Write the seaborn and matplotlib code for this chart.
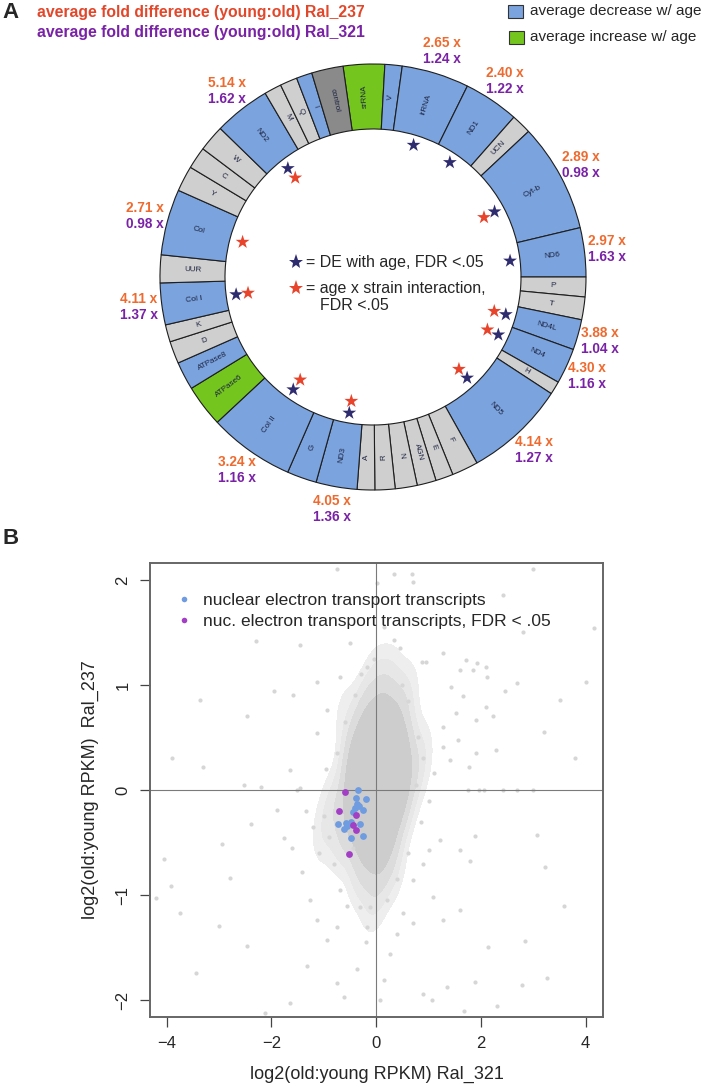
import numpy as np
import pandas as pd
import seaborn as sns
import matplotlib.pyplot as plt
from matplotlib.patches import Wedge, Rectangle
from matplotlib.lines import Line2D
from matplotlib.colors import LinearSegmentedColormap

# ---------------- panel A: mitochondrial genome ring ----------------
seg_names = ["srRNA", "V", "lrRNA", "ND1", "UCN", "Cyt-b", "ND6", "P", "T", "ND4L",
             "ND4", "H", "ND5", "F", "E", "AGN", "N", "R", "A", "ND3", "G", "Col II",
             "ATPase6", "ATPase8", "D", "K", "Col I", "UUR", "Col", "Y", "C", "W",
             "ND2", "M", "Q", "I", "control"]
# segment boundaries, degrees clockwise from 12 o'clock
seg_bounds = [-8.1, 3.2, 7.9, 26.3, 41.4, 46.9, 76.6, 90.0, 95.4, 101.6, 109.9,
              119.6, 123.2, 150.8, 158.0, 162.8, 168.0, 174.0, 179.5, 184.3, 195.5,
              203.6, 227.0, 238.5, 246.2, 252.3, 257.0, 268.4, 276.0, 294.0, 301.0,
              307.0, 314.2, 329.6, 334.3, 339.0, 343.3, 351.9]
seg_kind = ["inc", "dec", "dec", "dec", "trna", "dec", "dec", "trna", "trna", "dec",
            "dec", "trna", "dec", "trna", "trna", "trna", "trna", "trna", "trna", "dec",
            "dec", "dec", "inc", "dec", "trna", "trna", "dec", "trna", "dec", "trna",
            "trna", "trna", "dec", "trna", "trna", "dec", "ctrl"]

fold_genes = ["lrRNA", "ND1", "Cyt-b", "ND6", "ND4L", "ND4", "ND5", "ND3", "Col II",
              "Col I", "Col", "ND2"]
fold_237 = [2.65, 2.40, 2.89, 2.97, 3.88, 4.30, 4.14, 4.05, 3.24, 4.11, 2.71, 5.14]
fold_321 = [1.24, 1.22, 0.98, 1.63, 1.04, 1.16, 1.27, 1.36, 1.16, 1.37, 0.98, 1.62]

de_genes = ["lrRNA", "ND1", "Cyt-b", "ND6", "ND4L", "ND4", "ND5", "ND3", "Col II",
            "Col I", "ND2"]
int_genes = ["Cyt-b", "ND4L", "ND4", "ND5", "ND3", "Col II", "Col I", "Col", "ND2"]

# ---------------- panel B: scatter ----------------
# dense central cloud of all transcripts: anchor points + local density
cloud_x = [0.00, 0.25,
           -0.20, 0.10, 0.40,
           -0.40, -0.10, 0.20, 0.50,
           -0.45, -0.15, 0.15, 0.45, 0.70,
           -0.80, -0.45, -0.15, 0.15, 0.45,
           -0.65, -0.35, -0.05, 0.25,
           -0.25, 0.05, 0.30,
           -0.05,
           -1.00, 0.85, 0.60, -0.60]
cloud_y = [1.05, 1.05,
           0.75, 0.75, 0.75,
           0.45, 0.45, 0.45, 0.45,
           0.15, 0.15, 0.15, 0.15, 0.15,
           -0.15, -0.15, -0.15, -0.15, -0.15,
           -0.45, -0.45, -0.45, -0.45,
           -0.75, -0.75, -0.75,
           -1.05,
           -0.40, 0.35, 0.95, 0.75]
cloud_w = [1.0, 1.0,
           2.5, 3.5, 2.5,
           3.0, 5.0, 6.0, 3.5,
           4.0, 6.0, 7.0, 5.0, 1.5,
           1.5, 4.0, 6.0, 6.0, 3.5,
           1.5, 3.0, 4.5, 3.5,
           2.0, 2.5, 1.0,
           1.0,
           0.8, 0.8, 0.6, 0.5]

# scattered transcripts outside the dense cloud
bg_x = [-4.06, -4.20, -3.92, -3.75, -3.45, -2.95, -2.79, -3.01, -2.47, -2.12, -1.64,
        -2.40, -1.90, -1.77, -1.51, -1.42, -1.26, -1.13, -0.94, -1.32, -0.75, -0.62,
        -0.37, -0.18, -0.11, 0.08, 0.14, 0.27, 0.39, 0.52, 0.71, 0.90, 1.09, 1.22,
        1.28, 1.35, 1.06, 1.67, 2.30, 2.14, 1.60, 1.79, 2.05, 2.68, 2.84, 3.07, 3.23,
        3.26, 3.58, 2.78, 1.89, 0.90,
        -0.75, 0.33, 0.68, 3.00, 0.01, -0.05, 0.87, 1.60, 1.92, 4.15, -1.45, -1.13,
        2.68, 2.11, -0.69, 0.33, -0.18,
        -3.30, -2.53, -2.21, -1.96, -1.58, -1.64, -1.45, 1.76, 1.89, 1.28, 1.00, 1.60,
        -2.47, -1.13, -0.94, -0.31, -0.75, 0.71,
        0.70, 2.42, 4.00, 3.50, 1.72, 2.10, 1.84, 1.27, 0.95, 1.43, 1.65, 2.10, 2.45,
        2.23, 1.91, 1.53, 1.27, 1.56, 1.91, 2.29, 1.78, 1.40, 1.11, 2.42, 2.99, 1.97,
        -1.00, -0.90, -1.10, -0.80, -1.20, -0.70, -0.55, -0.95, -0.75, -0.60, -0.40,
        -0.30, 0.50, 0.60, 0.80, 0.90, 0.75, 0.85, 0.60, 0.40, -0.20, 0.20, -0.45,
        1.00, -1.35, -1.60, -0.50, 0.15, 0.45,
        -3.36, -2.30, -3.90, 3.20, 3.80, 2.80]
bg_y = [-0.66, -1.03, -0.91, -1.17, -1.74, -0.51, -0.84, -1.29, -1.48, -2.12, -2.03,
        -0.32, -0.19, -0.46, 0.00, -0.78, -1.05, -1.24, -1.43, -1.67, -1.84, -1.97,
        -1.70, -1.30, -1.11, -2.00, -1.81, -1.56, -1.37, -1.17, -0.86, -0.70, -1.02,
        -0.48, -1.24, -1.87, -2.00, -2.10, -2.06, -1.49, -0.57, -0.68, 0.00, 0.00,
        -1.44, -0.43, -0.73, -1.79, -1.10, -1.86, -1.83, -1.94,
        2.10, 2.06, 2.06, 2.10, 1.97, 1.25, 1.22, 1.14, 1.21, 1.54, 1.38, 1.03, 1.02,
        1.08, 1.08, 1.43, 1.17,
        0.22, 0.05, 0.03, 0.94, 0.90, 0.19, 0.02, 0.00, -0.44, 0.41, -0.57, -1.14,
        0.70, 0.54, 0.76, -1.11, -1.30, -1.27,
        1.98, 1.86, 1.03, 0.86, 1.24, 1.17, 1.14, 1.30, 1.22, 0.98, 0.89, 0.79, 0.94,
        0.70, 0.67, 0.73, 0.60, 0.48, 0.35, 0.38, 0.22, 0.29, 0.16, 0.00, 0.00, 0.00,
        -0.25, -0.45, -0.60, -0.70, -0.35, -0.95, -1.10, 0.20, 0.35, 0.65, 0.90,
        1.10, 1.00, 0.85, 0.50, 0.30, 0.05, -0.30, -0.60, -0.85, -1.45, -1.05, -0.55,
        -0.10, -0.20, -0.55, 1.40, 1.55, 1.35,
        0.86, 1.42, 0.30, 0.55, 0.30, 1.50]

# nuclear electron transport transcripts
etc_x = [-0.34, -0.39, -0.20, -0.37, -0.32, -0.40, -0.26, -0.45, -0.73, -0.58,
         -0.48, -0.31, -0.62, -0.55, -0.49, -0.25]
etc_y = [0.00, -0.08, -0.09, -0.13, -0.15, -0.17, -0.19, -0.21, -0.32, -0.31,
         -0.30, -0.32, -0.37, -0.34, -0.46, -0.44]
# ... of which FDR < .05
fdr_x = [-0.59, -0.71, -0.39, -0.44, -0.39, -0.52]
fdr_y = [-0.02, -0.20, -0.24, -0.33, -0.38, -0.61]

# ---------------- styling ----------------
sns.set_theme(style="white")
plt.rcParams["font.family"] = ["Liberation Sans", "DejaVu Sans"]

ORANGE_HDR = "#e2472a"
ORANGE = "#ee6a2e"
PURPLE = "#7a22a6"
NAVY = "#2e2b6e"
RED = "#e8432b"
seg_colors = {"dec": "#7ba3de", "inc": "#74c61e", "trna": "#cfcfcf", "ctrl": "#8a8a8a"}

fig = plt.figure(figsize=(7.1, 10.91), dpi=100)

# panel A drawn in pixel coordinates
axA = fig.add_axes([0, 0, 1, 1])

CX, CY, R_OUT, R_IN = 373, 277, 213, 148


def ring_xy(theta, r):
    t = np.radians(theta)
    return CX + r * np.sin(t), CY - r * np.cos(t)


mids = {}
for name, a0, a1, kind in zip(seg_names, seg_bounds[:-1], seg_bounds[1:], seg_kind):
    axA.add_patch(Wedge((CX, CY), R_OUT, a0 - 90, a1 - 90, width=R_OUT - R_IN,
                        facecolor=seg_colors[kind], edgecolor="#1e1e1e", lw=0.8))
    mid = (a0 + a1) / 2
    mids[name] = mid
    x, y = ring_xy(mid, (R_OUT + R_IN) / 2)
    rot = (90 - mid + 85) % 360 - 85
    if rot > 95:
        rot -= 180
    axA.text(x, y, name, rotation=rot, rotation_mode="anchor", ha="center",
             va="center", fontsize=5.8, color="#1c2340")

# fold difference labels outside the ring
for g, f1, f2 in zip(fold_genes, fold_237, fold_321):
    x, y = ring_xy(mids[g], 236)
    axA.text(x, y - 8, f"{f1:.2f} x", ha="center", va="center", fontsize=9.8,
             fontweight="bold", color=ORANGE)
    axA.text(x, y + 8, f"{f2:.2f} x", ha="center", va="center", fontsize=9.8,
             fontweight="bold", color=PURPLE)

# stars inside the ring
star_rows = []
for g in de_genes:
    star_rows.append(("DE", *ring_xy(mids[g], 138)))
for g in int_genes:
    star_rows.append(("int", *ring_xy(mids[g], 126 if g in de_genes else 135)))
stars = pd.DataFrame(star_rows, columns=["kind", "x", "y"])
sns.scatterplot(data=stars, x="x", y="y", hue="kind", palette={"DE": NAVY, "int": RED},
                marker="*", s=110, linewidth=0, legend=False, ax=axA)
axA.set_xlim(0, 710)
axA.set_ylim(1091, 0)
axA.axis("off")

# star key in the middle
axA.plot(296, 262, marker="*", ms=11, color=NAVY, mew=0)
axA.text(306, 262, "= DE with age, FDR <.05", va="center", fontsize=11.5)
axA.plot(296, 288, marker="*", ms=11, color=RED, mew=0)
axA.text(306, 288, "= age x strain interaction,", va="center", fontsize=11.5)
axA.text(320, 306, "FDR <.05", va="center", fontsize=11.5)

# header
axA.text(2, 13, "A", va="center", fontsize=16, fontweight="bold")
axA.text(37, 13, "average fold difference (young:old) Ral_237", va="center",
         fontsize=11.3, fontweight="bold", color=ORANGE_HDR)
axA.text(37, 33, "average fold difference (young:old) Ral_321", va="center",
         fontsize=11.3, fontweight="bold", color=PURPLE)

# colour key
axA.add_patch(Rectangle((508, 5), 15, 13, facecolor=seg_colors["dec"],
                        edgecolor="#333", lw=0.8))
axA.text(530, 11.5, "average decrease w/ age", va="center", fontsize=11)
axA.add_patch(Rectangle((509, 31), 15, 13, facecolor=seg_colors["inc"],
                        edgecolor="#333", lw=0.8))
axA.text(530, 37.5, "average increase w/ age", va="center", fontsize=11)

axA.text(2, 538, "B", va="center", fontsize=16, fontweight="bold")

# ---------------- panel B ----------------
axB = fig.add_axes([150 / 710, 1 - 1017 / 1091, 453 / 710, 454 / 1091])

cloud = pd.DataFrame({"x": cloud_x, "y": cloud_y, "w": cloud_w})
grey_cmap = LinearSegmentedColormap.from_list(
    "greys_soft", ["#f0f0f0", "#dbdbdb", "#d0d0d0", "#cbcbcb", "#c9c9c9"])
sns.kdeplot(data=cloud, x="x", y="y", weights="w", fill=True, cmap=grey_cmap,
            levels=[0.015, 0.05, 0.12, 0.25, 1.0], bw_method=0.45, ax=axB)
sns.scatterplot(x=bg_x, y=bg_y, color="#d6d6d6", s=9, linewidth=0, ax=axB)

axB.axhline(0, color="#7a7a7a", lw=0.8, zorder=2)
axB.axvline(0, color="#7a7a7a", lw=0.8, zorder=2)

sns.scatterplot(x=etc_x, y=etc_y, color="#6f9ce0", s=24, linewidth=0, ax=axB, zorder=3)
sns.scatterplot(x=fdr_x, y=fdr_y, color="#a23fc4", s=24, linewidth=0, ax=axB, zorder=4)

axB.set_xlim(-4.32, 4.33)
axB.set_ylim(-2.16, 2.16)
axB.set_xticks([-4, -2, 0, 2, 4])
axB.set_yticks([-2, -1, 0, 1, 2])
axB.tick_params(direction="out", length=7, width=0.9, color="#444", labelsize=12,
                pad=7, left=True, bottom=True)
for lab in axB.get_yticklabels():
    lab.set_rotation(90)
    lab.set_va("center")
for sp in axB.spines.values():
    sp.set_color("#666")
    sp.set_linewidth(1.4)

axB.set_xlabel("log2(old:young RPKM) Ral_321", fontsize=13)
axB.set_ylabel("log2(old:young RPKM)  Ral_237", fontsize=13)
axB.xaxis.set_label_coords(0.5, -0.108)
axB.yaxis.set_label_coords(-0.113, 0.5)

handles = [Line2D([], [], ls="", marker="o", ms=4, mew=0, color="#6f9ce0"),
           Line2D([], [], ls="", marker="o", ms=4, mew=0, color="#a23fc4")]
axB.legend(handles, ["nuclear electron transport transcripts",
                     "nuc. electron transport transcripts, FDR < .05"],
           loc="upper left", bbox_to_anchor=(0.04, 0.95), frameon=False,
           fontsize=12.5, handletextpad=0.6, handlelength=1.0, labelspacing=0.35,
           borderaxespad=0)

fig.savefig("out.png", dpi=100)
